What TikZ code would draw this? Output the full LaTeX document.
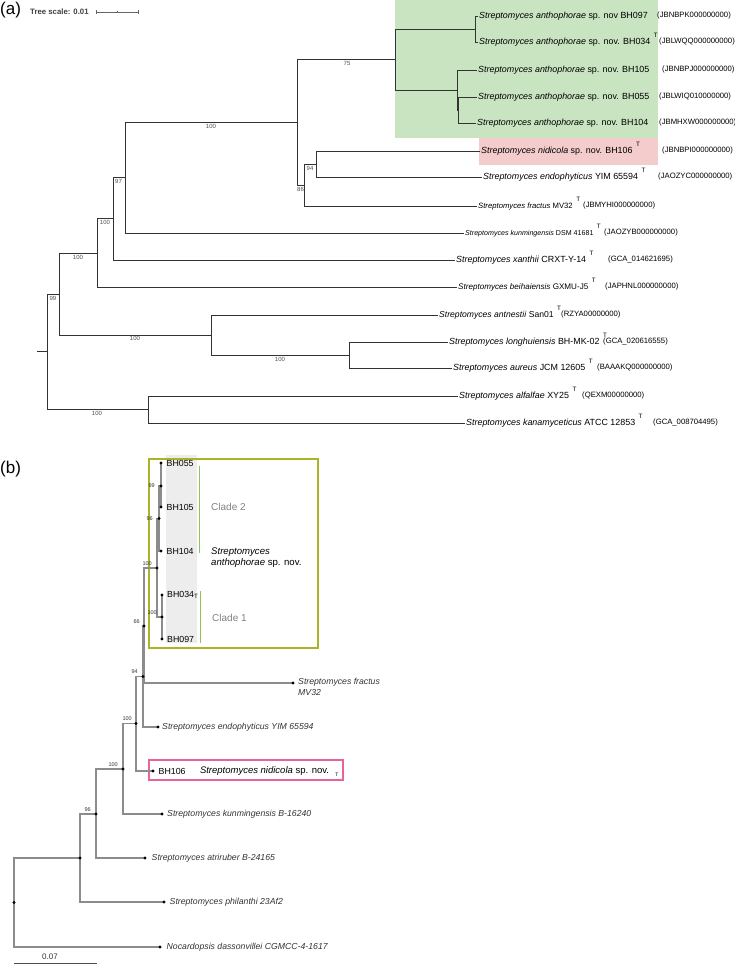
\documentclass[tikz,border=0pt]{standalone}
\usepackage{fontspec}
\setmainfont{Liberation Sans}
\usetikzlibrary{positioning}
\newcommand{\tstrain}{\hspace{3.5pt}\raisebox{6.5pt}{\fontsize{6.3}{7}\selectfont T}}

\begin{document}
\begin{tikzpicture}[x=1pt,y=-1pt,
  treea/.style={draw=black!80, line width=0.7pt},
  leafa/.style={anchor=west, inner sep=1pt, text height=6.4pt, text depth=1.8pt, font=\fontsize{8.9}{10}\selectfont},
  acc/.style={anchor=west, inner sep=0pt, font=\fontsize{7.7}{8}\selectfont},
  boota/.style={inner sep=0pt, font=\fontsize{6}{7}\selectfont, text=black!70},
  treeb/.style={draw=black!45, line width=1.3pt},
  leafb/.style={inner sep=1pt, font=\fontsize{8.7}{10.5}\selectfont\itshape, text=black!80},
  bhb/.style={inner sep=1pt, font=\fontsize{8.8}{10}\selectfont},
  bootb/.style={inner sep=0pt, font=\fontsize{5.5}{6}\selectfont, text=black!80},
  cladetxt/.style={anchor=west, inner sep=0pt, font=\fontsize{10}{12}\selectfont, text=black!50},
]
\definecolor{anthogreen}{HTML}{C9E4C0}
\definecolor{nidipink}{HTML}{F4CCCC}
\definecolor{boxolive}{HTML}{A9B526}
\definecolor{boxmagenta}{HTML}{E9629A}
\definecolor{cladeline}{HTML}{8CC65A}
\useasboundingbox (0,0) rectangle (735,965);

% (a) maximum likelihood tree
\fill[anthogreen] (395,0) rectangle (658,138);
\fill[nidipink] (479,138) rectangle (658,165);
\node[anchor=west, inner sep=0pt, font=\fontsize{17}{17}\selectfont] (panela) at (0,10) {(a)};
\node[anchor=west, inner sep=0pt, font=\fontsize{7.8}{9}\selectfont\bfseries, text=black!75] (scalea) at (30,12) {Tree scale: 0.01};
\coordinate (sa0) at (96,12);
\coordinate (sa1) at (138,12);
\coordinate (sam) at (117,12);
\draw[black!60, line width=0.5pt] (sa0) -- (sa1)
  ([yshift=2pt]sa0) -- ([yshift=-2pt]sa0) ([yshift=2pt]sa1) -- ([yshift=-2pt]sa1)
  ([yshift=1pt]sam) -- ([yshift=-1pt]sam);

\coordinate (astub) at (37,351.75);
\coordinate (ar) at (47,351.75);
\coordinate (a59) at (59,294);
\coordinate (a97) at (97,253);
\coordinate (a113) at (113,218.75);
\coordinate (a125) at (125,177.5);
\coordinate (a297) at (297,122);
\coordinate (a395) at (395,59.5);
\coordinate (a475) at (475,29);
\coordinate (a457) at (457,90);
\coordinate (a458) at (458.5,110);
\coordinate (a304) at (304,185);
\coordinate (a316) at (316,164);
\coordinate (a211) at (211,335);
\coordinate (a349) at (349,355);
\coordinate (a148) at (148,409.5);

\node[leafa] (la097) at (478,16) {\textit{Streptomyces anthophorae} sp. nov BH097};
\node[leafa] (la034) at (478,42) {\textit{Streptomyces anthophorae} sp. nov. BH034\tstrain};
\node[leafa] (la105) at (477,70) {\textit{Streptomyces anthophorae} sp. nov. BH105};
\node[leafa] (la055) at (477,97) {\textit{Streptomyces anthophorae} sp. nov. BH055};
\node[leafa] (la104) at (476,123) {\textit{Streptomyces anthophorae} sp. nov. BH104};
\node[leafa] (la106) at (480,151) {\textit{Streptomyces nidicola} sp. nov. BH106\tstrain};
\node[leafa] (laendo) at (482,177) {\textit{Streptomyces endophyticus} YIM 65594\tstrain};
\node[leafa, font=\fontsize{7.7}{9}\selectfont] (lafra) at (477,206) {\textit{Streptomyces fractus} MV32\tstrain};
\node[leafa, font=\fontsize{7.1}{9}\selectfont] (lakun) at (464,233) {\textit{Streptomyces kunmingensis} DSM 41681\tstrain};
\node[leafa] (laxan) at (455,260) {\textit{Streptomyces xanthii} CRXT-Y-14\tstrain};
\node[leafa, font=\fontsize{8.1}{9}\selectfont] (labei) at (457,287) {\textit{Streptomyces beihaiensis} GXMU-J5\tstrain};
\node[leafa, font=\fontsize{8.6}{10}\selectfont] (laant) at (438,315) {\textit{Streptomyces antnestii} San01\tstrain};
\node[leafa] (lalon) at (448,342) {\textit{Streptomyces longhuiensis} BH-MK-02\tstrain};
\node[leafa] (laaur) at (452,368) {\textit{Streptomyces aureus} JCM 12605\tstrain};
\node[leafa] (laalf) at (458,396) {\textit{Streptomyces alfalfae} XY25\tstrain};
\node[leafa] (lakan) at (465,423) {\textit{Streptomyces kanamyceticus} ATCC 12853\tstrain};

\draw[treea] (astub) -- (ar);
\foreach \p/\c in {ar/a59, ar/a148, a59/a97, a59/a211, a97/a113, a97/labei.west,
    a113/a125, a113/laxan.west, a125/a297, a125/lakun.west, a297/a395, a297/a304,
    a395/a475, a395/a457, a475/la097.west, a475/la034.west, a457/la105.west, a457/a458,
    a458/la055.west, a458/la104.west, a304/a316, a304/lafra.west, a316/la106.west,
    a316/laendo.west, a211/laant.west, a211/a349, a349/lalon.west, a349/laaur.west,
    a148/laalf.west, a148/lakan.west}
  \draw[treea] (\p) |- (\c);

\node[boota] (ba75) at (347,63) {75};
\node[boota] (ba100a) at (211,126) {100};
\node[boota] (ba94) at (310,168) {94};
\node[boota] (ba86) at (300.5,189) {86};
\node[boota] (ba97) at (118.5,181) {97};
\node[boota] (ba100b) at (105,222) {100};
\node[boota] (ba100c) at (78,257) {100};
\node[boota] (ba99) at (53,298) {99};
\node[boota] (ba100d) at (135,338) {100};
\node[boota] (ba100e) at (280,359) {100};
\node[boota] (ba100f) at (97,413) {100};

\foreach \n/\x/\y/\t in {1/657/16/JBNBPK000000000, 2/659/42/JBLWQQ000000000,
    3/662/70/JBNBPJ000000000, 4/659/97/JBLWIQ010000000, 5/659/123/JBMHXW000000000,
    6/662/151/JBNBPI000000000, 7/658/177/JAOZYC000000000, 8/583/206/JBMYHI000000000,
    9/604/233/JAOZYB000000000, 10/608/260/GCA\_014621695, 11/605/287/JAPHNL000000000,
    12/561/315/RZYA00000000, 13/603/342/GCA\_020616555, 14/597/368/BAAAKQ000000000,
    15/582/396/QEXM00000000, 16/653/423/GCA\_008704495}
  \node[acc] (acc\n) at (\x,\y) {(\t)};

% (b) tree
\node[anchor=west, inner sep=0pt, font=\fontsize{17}{17}\selectfont] (panelb) at (0,469) {(b)};
\fill[black!7] (166,455) rectangle (197,643);
\draw[boxolive, line width=1.4pt] (149,459) rectangle (318,648);
\draw[cladeline, line width=1pt] (199,466) -- (199,553) (200,591) -- (200,643);
\draw[boxmagenta, line width=1.3pt] (149,760) rectangle (343,780);

\coordinate (b99) at (161,486);
\coordinate (b96) at (159,518.5);
\coordinate (b100u) at (157,568);
\coordinate (b100l) at (162,617);
\coordinate (b66) at (144,626);
\coordinate (b94) at (143,676.5);
\coordinate (b100a) at (136,723.5);
\coordinate (b100b) at (123,769);
\coordinate (b96b) at (96,814);
\coordinate (b80) at (80,858);
\coordinate (broot) at (14,902.5);
\coordinate (d055) at (161,463);
\coordinate (d105) at (161,507);
\coordinate (d104) at (161,551);
\coordinate (d034) at (162,595);
\coordinate (d097) at (162,639);
\coordinate (dfra) at (293,683);
\coordinate (dendo) at (158,727);
\coordinate (d106) at (153,771);
\coordinate (dkun) at (162,814);
\coordinate (datr) at (145,858);
\coordinate (dphi) at (164,902);
\coordinate (dnoc) at (160,947);

\foreach \p/\c in {b99/d055, b99/d105, b96/b99, b96/d104, b100u/b96, b100u/b100l,
    b100l/d034, b100l/d097, b66/b100u, b66/dfra, b94/b66, b94/dendo, b100a/b94,
    b100a/d106, b100b/b100a, b100b/dkun, b96b/b100b, b96b/datr, b80/b96b, b80/dphi,
    broot/b80, broot/dnoc}
  \draw[treeb] (\p) |- (\c);
\foreach \d in {b99, b96, b100u, b100l, b66, b94, b100a, b100b, b96b, b80, broot,
    d055, d105, d104, d034, d097, dfra, dendo, d106, dkun, datr, dphi, dnoc}
  \fill (\d) circle (1.7);

\node[bhb, right=4.5pt of d055] (t055) {BH055};
\node[bhb, right=4.5pt of d105] (t105) {BH105};
\node[bhb, right=4.5pt of d104] (t104) {BH104};
\node[bhb, right=4pt of d034] (t034) {BH034\textsubscript{T}};
\node[bhb, right=4pt of d097] (t097) {BH097};
\node[bhb, right=4.5pt of d106] (t106) {BH106};
\node[inner sep=1pt, font=\fontsize{9.5}{10}\selectfont, right=12pt of t106] (tnidi) {\textit{Streptomyces nidicola} sp. nov.};
\node[inner sep=0pt, font=\fontsize{5}{5}\selectfont, right=5pt of tnidi, yshift=-4pt] (tnidiT) {T};
\node[leafb, align=left, right=4pt of dfra, yshift=-4pt] (tfra) {Streptomyces fractus\\MV32};
\node[leafb, right=3pt of dendo] (tendo) {Streptomyces endophyticus YIM 65594};
\node[leafb, right=4pt of dkun] (tkun) {Streptomyces kunmingensis B-16240};
\node[leafb, right=5.5pt of datr] (tatr) {Streptomyces atriruber B-24165};
\node[leafb, right=4.5pt of dphi] (tphi) {Streptomyces philanthi 23Af2};
\node[leafb, right=5.5pt of dnoc] (tnoc) {Nocardopsis dassonvillei CGMCC-4-1617};

\node[cladetxt] (clade2) at (211,507) {Clade 2};
\node[cladetxt] (clade1) at (212,618) {Clade 1};
\node[anchor=west, align=left, inner sep=0pt, font=\fontsize{9.6}{11.5}\selectfont] (anthob) at (211,557.5) {\textit{Streptomyces}\\\textit{anthophorae} sp. nov.};

\node[bootb, left=6pt of b99] (bb99) {99};
\node[bootb, left=6pt of b96] (bb96) {96};
\node[bootb, above left=2.5pt and 5pt of b100u] (bb100u) {100};
\node[bootb, above left=2.5pt and 5pt of b100l] (bb100l) {100};
\node[bootb, above left=2.5pt and 4pt of b66] (bb66) {66};
\node[bootb, above left=2.5pt and 5pt of b94] (bb94) {94};
\node[bootb, above left=2.5pt and 4pt of b100a] (bb100a) {100};
\node[bootb, above left=2.5pt and 5pt of b100b] (bb100b) {100};
\node[bootb, above left=2.5pt and 5pt of b96b] (bb96b) {96};

\coordinate (sb0) at (14,963);
\coordinate (sb1) at (97,963);
\draw[black!70, line width=0.7pt] (sb0) -- (sb1);
\node[inner sep=0pt, font=\fontsize{8}{9}\selectfont, text=black!80] (sblab) at (50,957) {0.07};
\end{tikzpicture}
\end{document}
